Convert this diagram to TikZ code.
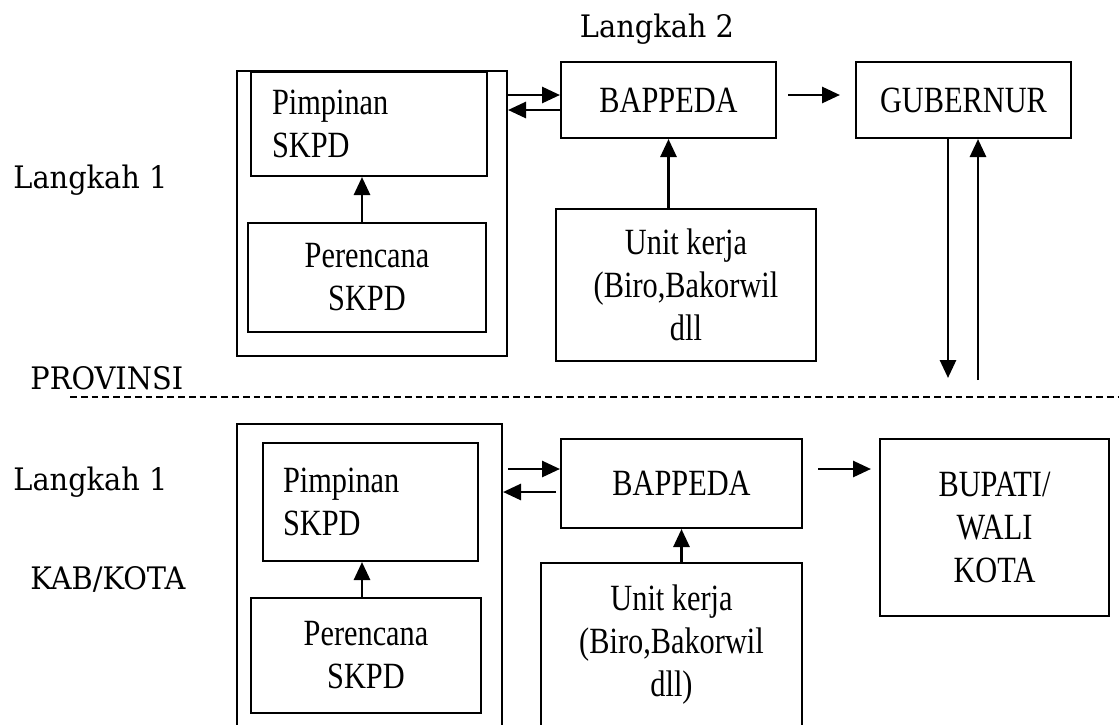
\documentclass[tikz,border=0pt]{standalone}
\usepackage{fontspec}
\usetikzlibrary{arrows.meta, positioning, calc}
\newfontfamily\boxfont[FakeStretch=0.82]{Liberation Serif}
\newfontfamily\sidefont[FakeStretch=0.93]{DejaVu Serif}
\tikzstyle{box} = [rectangle, draw=black, line width=1pt, inner sep=0pt, align=center, font=\boxfont\fontsize{18.5}{21.5}\selectfont]
\tikzstyle{group} = [rectangle, draw=black, line width=1pt, inner sep=0pt]
\tikzstyle{arrow} = [line width=1.4pt, -{Triangle[length=9pt,width=8pt]}]
\tikzstyle{side} = [inner sep=0pt, font=\sidefont\fontsize{15.5}{18}\selectfont]
\tikzstyle{divider} = [line width=0.8pt, dash pattern=on 3.4pt off 2pt]

\begin{document}
\begin{tikzpicture}[x=0.5pt, y=-0.5pt]
\clip (0,0) rectangle (1119,724);
\fill [white] (0,0) rectangle (1119,724);

% side labels
\node (lk2) [side, anchor=base] at (657,37) {Langkah 2};
\node (lk1a) [side, anchor=base west] at (13,188) {Langkah 1};
\node (prov) [side, anchor=base west] at (30,389) {PROVINSI};
\node (lk1b) [side, anchor=base west] at (13,490) {Langkah 1};
\node (kab) [side, anchor=base west] at (30,589) {KAB/KOTA};

% provinsi
\node (provgrp) [group, minimum width=135pt, minimum height=142.5pt] at (372,213.5) {};
\node (provPimp) [box, align=left, text width=97pt, inner xsep=10.5pt, minimum height=52pt] at (369,124) {Pimpinan\\SKPD};
\node (provPeren) [box, minimum width=119pt, minimum height=54.5pt] at (367,277.5) {Perencana\\SKPD};
\node (provBap) [box, minimum width=107.5pt, minimum height=38pt] at (668.5,100) {BAPPEDA};
\node (provGub) [box, minimum width=107.5pt, minimum height=38pt] at (963.5,100) {GUBERNUR};
\node (provUnit) [box, minimum width=130pt, minimum height=76pt] at (686,285) {Unit kerja\\(Biro,Bakorwil\\dll};

\coordinate (pp) at (362,0);
\coordinate (ya) at (0,95);
\coordinate (yb) at (0,110);
\coordinate (gd) at (948,378);
\coordinate (gu) at (978,380);

\draw [arrow] (pp |- provPeren.north) -- (pp |- provPimp.south);
\draw [arrow] (ya -| provgrp.east) -- (ya -| provBap.west);
\draw [arrow] (yb -| provBap.west) -- (yb -| provgrp.east);
\draw [arrow, shorten <=5.5pt, shorten >=7.5pt] (ya -| provBap.east) -- (ya -| provGub.west);
\draw [arrow] (provUnit.north -| provBap.south) -- (provBap.south);
\draw [arrow] (gd |- provGub.south) -- (gd);
\draw [arrow] (gu) -- (gu |- provGub.south);

\draw [divider] (70,397) -- (1119,397);

% kab/kota
\node (kabgrp) [group, minimum width=132.5pt, minimum height=160.5pt] at (369.5,584.5) {};
\node (kabPimp) [box, align=left, text width=87.5pt, inner xsep=10pt, minimum height=59pt] at (370.5,502) {Pimpinan\\SKPD};
\node (kabPeren) [box, minimum width=115pt, minimum height=57.5pt] at (366,655.5) {Perencana\\SKPD};
\node (kabBap) [box, minimum width=120.5pt, minimum height=44.5pt] at (681.5,483.5) {BAPPEDA};
\node (kabUnit) [box, minimum width=130.5pt, minimum height=82pt] at (671.5,645) {Unit kerja\\(Biro,Bakorwil\\dll)};
\node (kabBup) [box, minimum width=114.5pt, minimum height=88.5pt] at (994.5,527.5) {BUPATI/\\WALI\\KOTA};

\coordinate (kp) at (362,0);
\coordinate (yd) at (0,469);
\coordinate (ye) at (0,492);

\draw [arrow] (kp |- kabPeren.north) -- (kp |- kabPimp.south);
\draw [arrow, shorten <=2.5pt] (yd -| kabgrp.east) -- (yd -| kabBap.west);
\draw [arrow, shorten <=2pt] (ye -| kabBap.west) -- (ye -| kabgrp.east);
\draw [arrow, shorten <=7.5pt, shorten >=4pt] (yd -| kabBap.east) -- (yd -| kabBup.west);
\draw [arrow] (kabUnit.north -| kabBap.south) -- (kabBap.south);

\end{tikzpicture}
\end{document}
